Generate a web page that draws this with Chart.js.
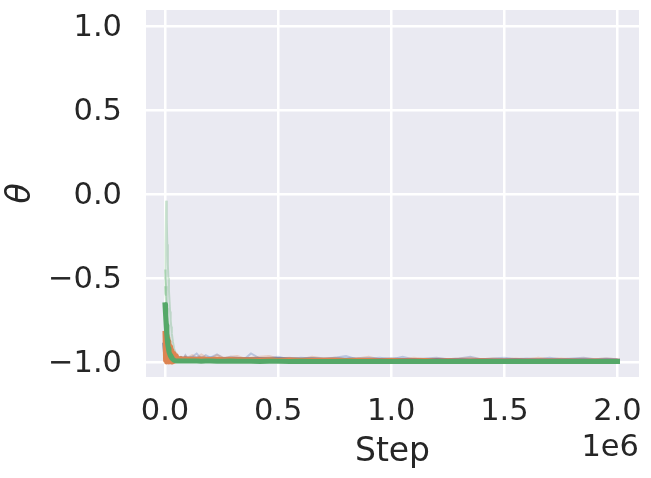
<!DOCTYPE html>
<html>
<head>
<meta charset="utf-8">
<script src="https://cdn.jsdelivr.net/npm/chart.js@4.4.0/dist/chart.umd.min.js"></script>
<style>
  html, body { margin: 0; padding: 0; background: #fff; }
</style>
</head>
<body>
<canvas id="thetaChart" width="651" height="478"></canvas>
<script>
// training steps (shared x positions)
const steps = [
  0, 2500, 5000, 7500, 10000, 12500, 15000, 17500, 20000, 22500, 25000, 27500, 30000,
  35000, 40000, 45000, 50000, 55000, 60000, 70000, 80000, 90000, 100000,
  120000, 140000, 160000, 180000, 200000, 230000, 260000, 290000, 320000, 350000, 380000,
  420000, 460000, 500000, 550000, 600000, 650000, 700000, 750000, 800000, 850000, 900000,
  950000, 1000000, 1050000, 1100000, 1150000, 1200000, 1250000, 1300000, 1350000, 1400000,
  1450000, 1500000, 1550000, 1600000, 1650000, 1700000, 1750000, 1800000, 1850000, 1900000,
  1950000, 2000000
];

// mean theta per run group
const blueMean = [
  -0.9, -0.95, -0.88, -0.97, -0.92, -0.98, -0.94, -0.97, -0.96, -0.98, -0.97, -0.975, -0.98,
  -0.978, -0.982, -0.98, -0.983, -0.981, -0.984, -0.982, -0.985, -0.983, -0.985,
  -0.984, -0.985, -0.984, -0.986, -0.985, -0.986, -0.987, -0.986, -0.987, -0.988, -0.987,
  -0.988, -0.989, -0.988, -0.989, -0.99, -0.989, -0.99, -0.991, -0.99, -0.991, -0.991,
  -0.992, -0.991, -0.992, -0.992, -0.993, -0.992, -0.993, -0.993, -0.994, -0.993, -0.994,
  -0.994, -0.993, -0.994, -0.995, -0.994, -0.995, -0.995, -0.995, -0.996, -0.995, -0.996
];
const orangeMean = [
  -0.83, -0.99, -0.84, -1.0, -0.86, -0.99, -0.88, -1.0, -0.9, -0.99, -0.91, -1.0, -0.93,
  -1.0, -0.95, -0.995, -0.965, -0.985, -0.983, -0.981, -0.984, -0.982, -0.985,
  -0.984, -0.986, -0.983, -0.985, -0.986, -0.985, -0.987, -0.986, -0.988, -0.987, -0.988,
  -0.989, -0.988, -0.99, -0.989, -0.99, -0.991, -0.99, -0.991, -0.992, -0.991, -0.992,
  -0.993, -0.992, -0.993, -0.993, -0.992, -0.994, -0.993, -0.994, -0.994, -0.993, -0.994,
  -0.995, -0.994, -0.995, -0.994, -0.995, -0.995, -0.995, -0.996, -0.995, -0.996, -0.996
];
const greenMean = [
  -0.66, -0.72, -0.78, -0.83, -0.87, -0.9, -0.92, -0.94, -0.95, -0.96, -0.967, -0.973, -0.978,
  -0.985, -0.99, -0.993, -0.994, -0.994, -0.995, -0.995, -0.994, -0.995, -0.995,
  -0.995, -0.995, -0.996, -0.995, -0.995, -0.996, -0.996, -0.995, -0.996, -0.996, -0.996,
  -0.997, -0.996, -0.996, -0.997, -0.996, -0.997, -0.997, -0.997, -0.996, -0.997, -0.997,
  -0.997, -0.997, -0.998, -0.997, -0.997, -0.998, -0.997, -0.998, -0.998, -0.997, -0.998,
  -0.998, -0.998, -0.998, -0.997, -0.998, -0.998, -0.998, -0.998, -0.998, -0.998, -0.998
];

// individual runs (drawn faint)
const blueRun = [
  -0.88, -0.97, -0.9, -0.99, -0.93, -0.98, -0.95, -0.99, -0.96, -0.98, -0.965, -0.99, -0.97,
  -0.98, -0.975, -0.96, -0.985, -0.97, -0.98, -0.975, -0.985, -0.96, -0.98,
  -0.97, -0.95, -0.98, -0.96, -0.975, -0.955, -0.98, -0.97, -0.975, -0.985, -0.95,
  -0.98, -0.975, -0.97, -0.985, -0.975, -0.98, -0.985, -0.975, -0.965, -0.985, -0.98,
  -0.975, -0.985, -0.97, -0.985, -0.98, -0.975, -0.985, -0.98, -0.97, -0.985, -0.98,
  -0.975, -0.985, -0.98, -0.985, -0.975, -0.985, -0.98, -0.975, -0.985, -0.98, -0.985
];
const orangeRun = [
  -0.85, -1.0, -0.83, -0.99, -0.88, -1.0, -0.9, -0.99, -0.93, -1.0, -0.94, -0.985, -0.96,
  -0.95, -0.98, -0.965, -0.975, -0.96, -0.98, -0.97, -0.985, -0.965, -0.975,
  -0.96, -0.975, -0.955, -0.97, -0.98, -0.96, -0.975, -0.97, -0.965, -0.98, -0.975,
  -0.97, -0.965, -0.98, -0.975, -0.985, -0.97, -0.98, -0.975, -0.985, -0.98, -0.97,
  -0.985, -0.98, -0.985, -0.975, -0.985, -0.98, -0.985, -0.98, -0.975, -0.985, -0.98,
  -0.985, -0.98, -0.985, -0.975, -0.985, -0.98, -0.985, -0.98, -0.985, -0.98, -0.985
];
const greenRunA = [
  -0.6, -0.3, -0.04, -0.15, -0.3, -0.42, -0.5, -0.58, -0.64, -0.7, -0.75, -0.79, -0.83,
  -0.88, -0.92, -0.94, -0.96, -0.97, -0.975, -0.98, -0.985, -0.985, -0.99,
  -0.99, -0.992, -0.99, -0.993, -0.992, -0.994, -0.993, -0.994, -0.995, -0.994, -0.995
];
const greenRunB = [
  -0.45, -0.5, -0.55, -0.62, -0.68, -0.73, -0.78, -0.82, -0.86, -0.89, -0.91, -0.93, -0.945,
  -0.96, -0.97, -0.975, -0.98, -0.985, -0.985, -0.99, -0.99, -0.99, -0.992,
  -0.993, -0.992, -0.994, -0.993, -0.994, -0.995, -0.994, -0.995, -0.995, -0.996, -0.995
];
const greenRunC = [
  -0.55, -0.6, -0.65, -0.71, -0.76, -0.8, -0.84, -0.87, -0.9, -0.92, -0.94, -0.95, -0.96,
  -0.975, -0.98, -0.985, -0.99, -0.99, -0.992, -0.993, -0.994, -0.994, -0.995
];

const xTickValues = [0, 500000, 1000000, 1500000, 2000000];
const xTickLabels = ['0.0', '0.5', '1.0', '1.5', '2.0'];
const yTickValues = [-1, -0.5, 0, 0.5, 1];
const yTickLabels = ['\u22121.0', '\u22120.5', '0.0', '0.5', '1.0'];

const BLUE = '#4c72b0', ORANGE = '#dd8452', GREEN = '#55a868';
const FONT = 'DejaVu Sans';
const INK = '#262626';

function pts(vals) {
  return vals.map((v, i) => ({ x: steps[i], y: v }));
}

function faint(vals, color, order) {
  return {
    data: pts(vals),
    borderColor: color + '4d',
    borderWidth: 2,
    pointRadius: 0,
    tension: 0,
    order: order
  };
}

function mean(vals, color, order) {
  return {
    data: pts(vals),
    borderColor: color,
    borderWidth: 5,
    borderJoinStyle: 'round',
    borderCapStyle: 'square',
    pointRadius: 0,
    tension: 0,
    order: order
  };
}

const plotBg = {
  id: 'plotBg',
  beforeDraw(chart) {
    const { ctx, chartArea: a } = chart;
    ctx.save();
    ctx.fillStyle = '#eaeaf2';
    ctx.fillRect(a.left, a.top, a.right - a.left, a.bottom - a.top);
    ctx.restore();
  }
};

const offsetText = {
  id: 'offsetText',
  afterDraw(chart) {
    const { ctx, chartArea: a } = chart;
    ctx.save();
    ctx.font = '30.5px "' + FONT + '"';
    ctx.fillStyle = INK;
    ctx.textAlign = 'right';
    ctx.textBaseline = 'alphabetic';
    ctx.fillText('1e6', a.right, 456);
    ctx.restore();
  }
};

new Chart(document.getElementById('thetaChart'), {
  type: 'line',
  data: {
    datasets: [
      mean(greenMean, GREEN, 0),
      mean(orangeMean, ORANGE, 1),
      mean(blueMean, BLUE, 2),
      faint(greenRunA, GREEN, 3),
      faint(greenRunB, GREEN, 4),
      faint(greenRunC, GREEN, 5),
      faint(orangeRun, ORANGE, 6),
      faint(blueRun, BLUE, 7)
    ]
  },
  options: {
    responsive: false,
    animation: false,
    layout: { padding: { top: 10, right: 12, left: 0, bottom: 0 } },
    plugins: { legend: { display: false }, tooltip: { enabled: false } },
    scales: {
      x: {
        type: 'linear',
        min: -84000,
        max: 2095000,
        afterBuildTicks: (s) => { s.ticks = xTickValues.map(v => ({ value: v })); },
        afterFit: (s) => { s.height = 101; s.paddingLeft = 0; s.paddingRight = 0; },
        grid: { color: '#ffffff', lineWidth: 2.5, drawTicks: false },
        border: { display: false },
        ticks: {
          autoSkip: false, maxRotation: 0, padding: 17, color: INK,
          font: { family: FONT, size: 30.5 },
          callback: (v, i) => xTickLabels[i]
        },
        title: {
          display: true, text: 'Step', color: INK,
          font: { family: FONT, size: 33 },
          padding: { top: 0, bottom: 6 }
        }
      },
      y: {
        type: 'linear',
        min: -1.09,
        max: 1.095,
        afterBuildTicks: (s) => { s.ticks = yTickValues.map(v => ({ value: v })); },
        afterFit: (s) => { s.width = 146; s.paddingTop = 0; s.paddingBottom = 0; },
        grid: { color: '#ffffff', lineWidth: 2.5, drawTicks: false },
        border: { display: false },
        ticks: {
          autoSkip: false, padding: 24, labelOffset: 2, color: INK,
          font: { family: FONT, size: 30.5 },
          callback: (v, i) => yTickLabels[i]
        },
        title: {
          display: true, text: '\u03b8', color: INK,
          font: { family: FONT, size: 33, style: 'italic' },
          padding: { top: 2, bottom: 0 }
        }
      }
    }
  },
  plugins: [plotBg, offsetText]
});
</script>
</body>
</html>
